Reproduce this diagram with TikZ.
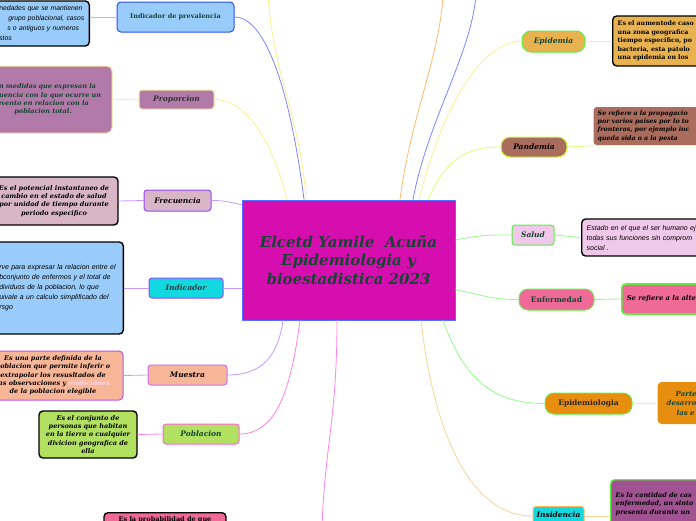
\documentclass[tikz,border=0pt]{standalone}
\usepackage{fontspec}
\setmainfont{DejaVu Serif}
\newfontfamily\letrapalo{Liberation Sans}
\usetikzlibrary{calc}

\definecolor{fucsia}{RGB}{214,14,176}
\definecolor{bordecentro}{RGB}{80,110,255}
\definecolor{verdetexto}{RGB}{22,68,50}
\definecolor{celeste}{RGB}{153,204,250}
\definecolor{azulborde}{RGB}{40,80,240}
\definecolor{malva}{RGB}{178,122,168}
\definecolor{amarillito}{RGB}{250,230,160}
\definecolor{rosaclaro}{RGB}{216,182,198}
\definecolor{violeta}{RGB}{150,70,255}
\definecolor{cian}{RGB}{18,216,224}
\definecolor{grisverde}{RGB}{40,62,60}
\definecolor{salmon}{RGB}{248,182,152}
\definecolor{lila}{RGB}{200,110,255}
\definecolor{lilaborde}{RGB}{190,80,245}
\definecolor{lima}{RGB}{178,224,96}
\definecolor{rosa}{RGB}{255,100,215}
\definecolor{rosapalido}{RGB}{255,215,235}
\definecolor{rosafuerte}{RGB}{240,106,152}
\definecolor{oro}{RGB}{232,178,80}
\definecolor{verdeborde}{RGB}{90,240,60}
\definecolor{marron}{RGB}{170,108,92}
\definecolor{limaborde}{RGB}{205,255,60}
\definecolor{rosalila}{RGB}{240,200,234}
\definecolor{naranja}{RGB}{232,142,14}
\definecolor{naranjaclaro}{RGB}{255,180,90}
\definecolor{moradito}{RGB}{160,82,146}
% colores de las ramas
\definecolor{ramaazul}{RGB}{120,135,255}
\definecolor{ramaazulclaro}{RGB}{180,185,255}
\definecolor{ramaamarilla}{RGB}{255,238,140}
\definecolor{ramalila}{RGB}{200,150,255}
\definecolor{ramarosa}{RGB}{255,130,230}
\definecolor{ramanaranja}{RGB}{255,185,110}
\definecolor{ramaverde}{RGB}{150,250,140}
\definecolor{ramalima}{RGB}{220,255,120}
\definecolor{ramaocre}{RGB}{255,210,150}

\begin{document}
\begin{tikzpicture}[
    x=1pt, y=-1pt,
    line cap=round,
    line join=round,
    centro/.style    = {draw=bordecentro, line width=1pt, fill=fucsia, minimum width=213pt, minimum height=120pt,
                        align=center, text=verdetexto, font=\fontsize{15}{18.5}\selectfont\bfseries\itshape},
    tema/.style      = {draw, line width=1pt, rounded corners=3pt, inner sep=0pt, text=verdetexto,
                        font=\fontsize{7.5}{9}\selectfont\bfseries\itshape},
    pildora/.style   = {tema, rounded corners=9pt},
    nota/.style      = {line width=1.4pt, rounded corners=4pt, inner sep=0pt, align=center,
                        font=\fontsize{6.5}{8.3}\selectfont\bfseries\itshape},
    notaletra/.style = {nota, align=left, font=\fontsize{7}{10}\selectfont\letrapalo\itshape},
    rama/.style      = {line width=0.8pt}
]

\useasboundingbox (0,0) rectangle (696,520);

% ---- nodo central ----
\node[centro] (cen) at (348.5,260) {Elcetd Yamile\ \ Acuña\\Epidemiologia y\\bioestadistica 2023};

% ---- lado izquierdo ----
\node[tema, fill=celeste, draw=azulborde, minimum width=117pt, minimum height=30pt, rounded corners=4pt,
      font=\fontsize{6.5}{8}\selectfont\bfseries] (prev) at (175.5,17) {Indicador de prevalencia};
\node[notaletra, fill=celeste, draw=black, anchor=east, minimum height=45pt, inner xsep=4pt, text width=86pt,
      font=\fontsize{6.8}{10}\selectfont\letrapalo\itshape] (prevd) at (90,23.5)
      {nedades que se mantienen\\\hspace*{9pt}grupo poblacional, casos\\\hspace*{8pt}s o antiguos y numeros\\stos};

\node[tema, fill=malva, draw=amarillito, minimum width=75pt, minimum height=19pt, text=black!80] (prop) at (176.5,99.5) {Proporcion};
\node[nota, fill=malva, draw=amarillito, line width=1pt, rounded corners=5pt, minimum width=138pt, minimum height=67pt,
      text=verdetexto] (propd) at (43,99.5)
      {Son medidas que expresan la\\frecuencia con la que ocurre un\\evento en relacion con la\\poblacion total.};

\node[tema, fill=rosaclaro, draw=violeta, minimum width=67pt, minimum height=21pt, text=black] (frec) at (177.5,200.5) {Frecuencia};
\node[nota, fill=rosaclaro, draw=black, minimum width=128pt, minimum height=48pt] (frecd) at (54,201)
      {Es el potencial instantaneo de\\cambio en el estado de salud\\por unidad de tiempo durante\\periodo especifico};

\node[tema, fill=cian, draw=violeta, minimum width=74pt, minimum height=20pt, text=grisverde] (ind) at (186,288) {Indicador};
\node[notaletra, fill=celeste, draw=black, anchor=east, minimum height=92pt, inner xsep=5pt, text width=119pt] (indd) at (124,288)
      {rve para expresar la relacion entre el\\bconjunto de enfermos y el total de\\dividuos de la poblacion, lo que\\uivale a un calculo simplificado del\\rsgo};

\node[tema, fill=salmon, draw=lila, minimum width=79pt, minimum height=20pt, text=black] (muest) at (187.5,375) {Muestra};
\node[nota, fill=salmon, draw=lilaborde, line width=1pt, minimum width=140pt, minimum height=49pt] (muestd) at (53,375.5)
      {Es una parte definida de la\\poblacion que permite inferir o\\extrapolar los resusltados de\\las observaciones y \textcolor{rosapalido}{mediciones}\\de la poblacion elegible};

\node[tema, fill=lima, draw=rosa, minimum width=76pt, minimum height=20pt] (pob) at (201,434) {Poblacion};
\node[nota, fill=lima, draw=black, minimum width=98pt, minimum height=47pt] (pobd) at (88,434.5)
      {Es el conjunto de\\personas que habitan\\en la tierra o cualquier\\divicion geografica de\\ella};

\node[nota, fill=rosafuerte, draw=black, anchor=north, minimum width=122pt, inner ysep=4pt, text depth=30pt,
      font=\fontsize{6.5}{8}\selectfont\bfseries] (probd) at (165,512) {Es la probabilidad de que};

% ---- lado derecho ----
\node[pildora, fill=oro, draw=verdeborde, minimum width=63pt, minimum height=21pt] (epid) at (553.5,41.5) {Epidemia};
\node[nota, fill=oro, draw=black, anchor=west, minimum height=50pt, inner xsep=5pt, text width=100pt, align=left,
      font=\fontsize{6.3}{8.5}\selectfont\bfseries] (epidd) at (612,41)
      {Es el aumentode caso\\una zona geografica\\tiempo especifico, po\\bacteria, esta patolo\\una epidemia en los};

\node[pildora, fill=marron, draw=limaborde, minimum width=66pt, minimum height=20pt, text=black] (pand) at (534,147) {Pandemia};
\node[nota, fill=marron, anchor=west, minimum height=38pt, inner xsep=4pt, text width=110pt, align=left, rounded corners=3pt,
      font=\fontsize{6.3}{8.3}\selectfont\bfseries\itshape] (pandd) at (593,126)
      {Se refiere a la propagacio\\por varios paises por lo to\\fronteras, por ejemplo inc\\queda sida o a la pesta};

\node[tema, fill=rosalila, draw=verdeborde, minimum width=42pt, minimum height=20pt] (salud) at (533,235) {Salud};
\node[notaletra, fill=rosalila, draw=black, anchor=west, minimum height=37pt, inner xsep=5pt, text width=120pt] (saludd) at (581,237.5)
      {Estado en el que el ser humano ej\\todas sus funciones sin comprom\\social .};

\node[pildora, fill=rosafuerte, draw=verdeborde, minimum width=75pt, minimum height=21pt,
      font=\fontsize{7.5}{9}\selectfont\bfseries] (enf) at (556.5,299.5) {Enfermedad};
\node[nota, fill=rosafuerte, draw=verdeborde, line width=1.6pt, anchor=west, minimum height=30pt, inner xsep=5pt,
      text width=90pt, align=left, font=\fontsize{6.8}{8.3}\selectfont\bfseries\itshape] (enfd) at (621,299) {Se refiere a la alte};

\node[pildora, fill=naranja, draw=verdeborde, minimum width=87pt, minimum height=21pt, text=black!85,
      font=\fontsize{7.5}{9}\selectfont\bfseries] (epim) at (588.5,403.5) {Epidemiologia};
\node[nota, fill=naranja, anchor=west, minimum height=42pt, inner xsep=9pt, text width=60pt, align=left, text=verdetexto,
      font=\fontsize{7}{9.5}\selectfont\bfseries\itshape] (epimd) at (657,403) {\hspace*{9pt}Parte\\desarro\\\hspace*{10pt}las e};

\node[tema, fill=cian, draw=naranjaclaro, anchor=north, minimum width=51pt, inner ysep=5pt, text depth=12pt, text=black] (ins) at (558.5,506) {Insidencia};
\node[nota, fill=moradito, draw=verdeborde, anchor=north west, inner xsep=5pt, inner ysep=13pt, text width=110pt, align=left,
      text depth=20pt, text=black] (insd) at (610,479) {Es la cantidad de cas\\enfermedad, un sinto\\presenta durante un};

% ---- ramas hacia fuera del cuadro ----
\coordinate (arribaA) at (268,-5);
\coordinate (arribaB) at (443,-5);
\coordinate (arribaC) at (476,-5);
\coordinate (abajoA) at (322,530);
\draw[rama, draw=ramaamarilla] ([xshift=-42.5pt]cen.north) .. controls +(-5,-80) and +(5,80) .. (arribaA);
\draw[rama, draw=ramanaranja] ([xshift=51.5pt]cen.north) .. controls +(10,-80) and +(-3,60) .. (arribaB);
\draw[rama, draw=ramaazul] ([xshift=64.5pt]cen.north) .. controls +(15,-80) and +(-5,60) .. (arribaC);
\draw[rama, draw=ramarosa] ([xshift=-11.5pt]cen.south) .. controls +(0,100) and +(2,-80) .. (abajoA);

% ---- ramas izquierdas ----
\draw[rama, draw=ramaazul] (prev.east) .. controls +(31,0) and +(-14,-110) .. ([xshift=-44.5pt]cen.north);
\draw[rama, draw=ramaamarilla] (prop.east) .. controls +(35,0) and +(-12,-50) .. ([xshift=-61.5pt]cen.north);
\draw[rama, draw=ramalila] (frec.east) .. controls +(15,0) and +(-12,-2) .. ([yshift=-5pt]cen.north west);
\draw[rama, draw=ramalila] (ind.east) -- (ind.east -| cen.west);
\draw[rama, draw=ramalila] (muest.east) .. controls +(35,0) and +(-5,35) .. ([xshift=-65.5pt]cen.south);
\draw[rama, draw=ramarosa] (pob.east) .. controls +(40,0) and +(-8,60) .. ([xshift=-48.5pt]cen.south);

\draw[rama, draw=ramaazulclaro] (prev.west) -- (prev.west -| prevd.east);
\draw[rama, draw=ramaamarilla] (prop.west) -- (propd.east);
\draw[rama, draw=ramalila] (frec.west) -- (frecd.east);
\draw[rama, draw=ramalila] (ind.west) -- (indd.east);
\draw[rama, draw=ramalila] (muest.west) -- (muestd.east);
\draw[rama, draw=ramarosa] (pob.west) -- (pobd.east);

% ---- ramas derechas ----
\draw[rama, draw=ramaamarilla] ([xshift=70.5pt]cen.north) .. controls +(20,-80) and +(-45,0) .. (epid.west);
\draw[rama, draw=ramalima] ([xshift=79.5pt]cen.north) .. controls +(18,-40) and +(-35,0) .. (pand.west);
\draw[rama, draw=ramaverde] ([yshift=20pt]cen.east) .. controls +(25,-5) and +(-25,0) .. (salud.west);
\draw[rama, draw=ramaverde] ([yshift=-30pt]cen.east) .. controls +(30,5) and +(-30,0) .. (enf.west);
\draw[rama, draw=ramaverde] ([xshift=94.5pt]cen.south) .. controls +(20,55) and +(-55,0) .. (epim.west);
\draw[rama, draw=ramaocre] ([xshift=72.5pt]cen.south) .. controls +(15,130) and +(-55,0) .. ([yshift=-10pt]ins.north west);

\draw[rama, draw=ramaamarilla] (epid.east) -- (epid.east -| epidd.west);
\draw[rama, draw=ramalima] (pand.east) -- (pandd.south west) -- (pandd.south east);
\draw[rama, draw=ramaverde] (salud.east) -- (saludd.west);
\draw[rama, draw=ramaverde] (enf.east) -- (enfd.west);
\draw[rama, draw=ramaamarilla] (epim.east) -- (epim.east -| epimd.west);
\draw[rama, draw=ramaocre] ([yshift=-10pt]ins.north east) -- ([yshift=-10pt]ins.north east -| insd.west);

\end{tikzpicture}
\end{document}
